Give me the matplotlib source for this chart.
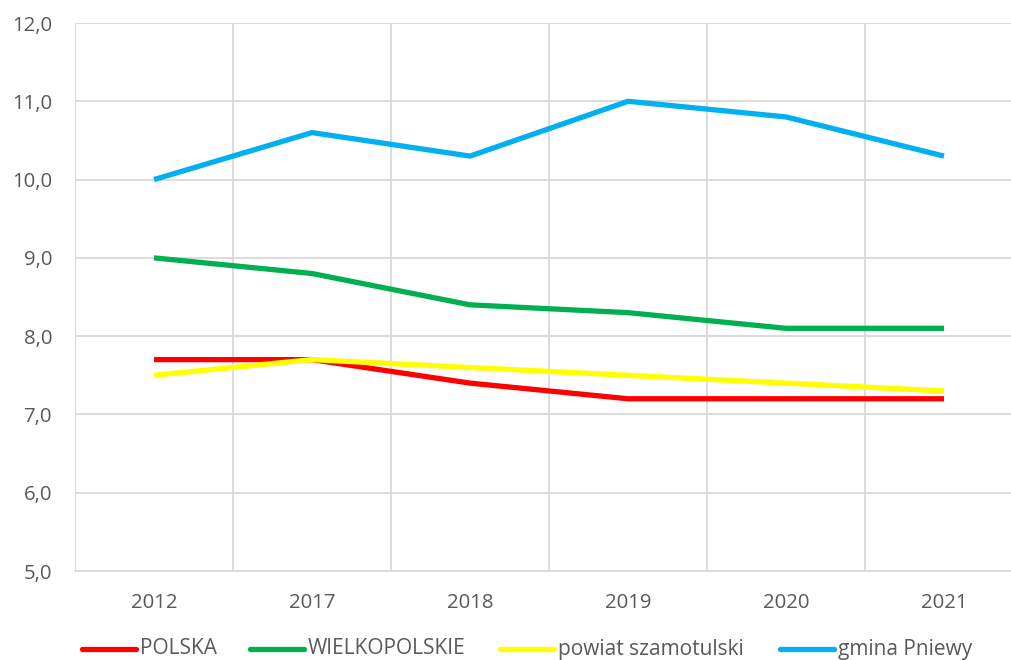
import matplotlib.pyplot as plt
from matplotlib.lines import Line2D
from matplotlib.ticker import FuncFormatter

years = ["2012", "2017", "2018", "2019", "2020", "2021"]
polska = [7.7, 7.7, 7.4, 7.2, 7.2, 7.2]
wielkopolskie = [9.0, 8.8, 8.4, 8.3, 8.1, 8.1]
powiat = [7.5, 7.7, 7.6, 7.5, 7.4, 7.3]
gmina = [10.0, 10.6, 10.3, 11.0, 10.8, 10.3]

series = [
    ("POLSKA", polska, "#FF0000"),
    ("WIELKOPOLSKIE", wielkopolskie, "#00B050"),
    ("powiat szamotulski", powiat, "#FFFF00"),
    ("gmina Pniewy", gmina, "#00B0F0"),
]

plt.rcParams["font.family"] = ["Open Sans", "DejaVu Sans"]
text_color = "#595959"
grid_color = "#D9D9D9"

W, H = 1012, 660
fig = plt.figure(figsize=(W / 100, H / 100), dpi=100)
ax = fig.add_axes([75 / W, 1 - 571 / H, 948 / W, 548 / H])

x = list(range(len(years)))
for name, vals, col in series:
    ax.plot(x, vals, color=col, lw=3.8, solid_capstyle="butt", solid_joinstyle="round")

ax.set_xlim(-0.5, len(years) - 0.5)
ax.set_ylim(5, 12)
ax.set_yticks([5, 6, 7, 8, 9, 10, 11, 12])
ax.yaxis.set_major_formatter(FuncFormatter(lambda v, p: f"{v:.1f}".replace(".", ",")))
ax.set_xticks(x)
ax.set_xticklabels(years)
ax.set_xticks([i - 0.5 for i in range(len(years) + 1)], minor=True)

ax.grid(axis="y", which="major", color=grid_color, lw=1.3)
ax.grid(axis="x", which="minor", color=grid_color, lw=1.3)
ax.set_axisbelow(True)
for s in ax.spines.values():
    s.set_visible(False)
ax.spines["bottom"].set_visible(True)
ax.spines["bottom"].set_color(grid_color)
ax.spines["bottom"].set_linewidth(1.3)
ax.tick_params(which="both", length=0)
ax.tick_params(axis="x", pad=16, labelsize=14.7, labelcolor=text_color)
ax.tick_params(axis="y", pad=16.5, labelsize=14.7, labelcolor=text_color)

# legend row along the bottom edge
leg_y = 1 - 649 / H
leg_x = [82, 250, 500, 780]
for (name, vals, col), lx in zip(series, leg_x):
    fig.add_artist(Line2D([lx / W, (lx + 54) / W], [leg_y, leg_y], color=col, lw=3.8,
                          solid_capstyle="round", transform=fig.transFigure))
    fig.text((lx + 58) / W, leg_y, name, fontsize=15, color=text_color, va="center", ha="left")

fig.savefig("out.png", dpi=100)
